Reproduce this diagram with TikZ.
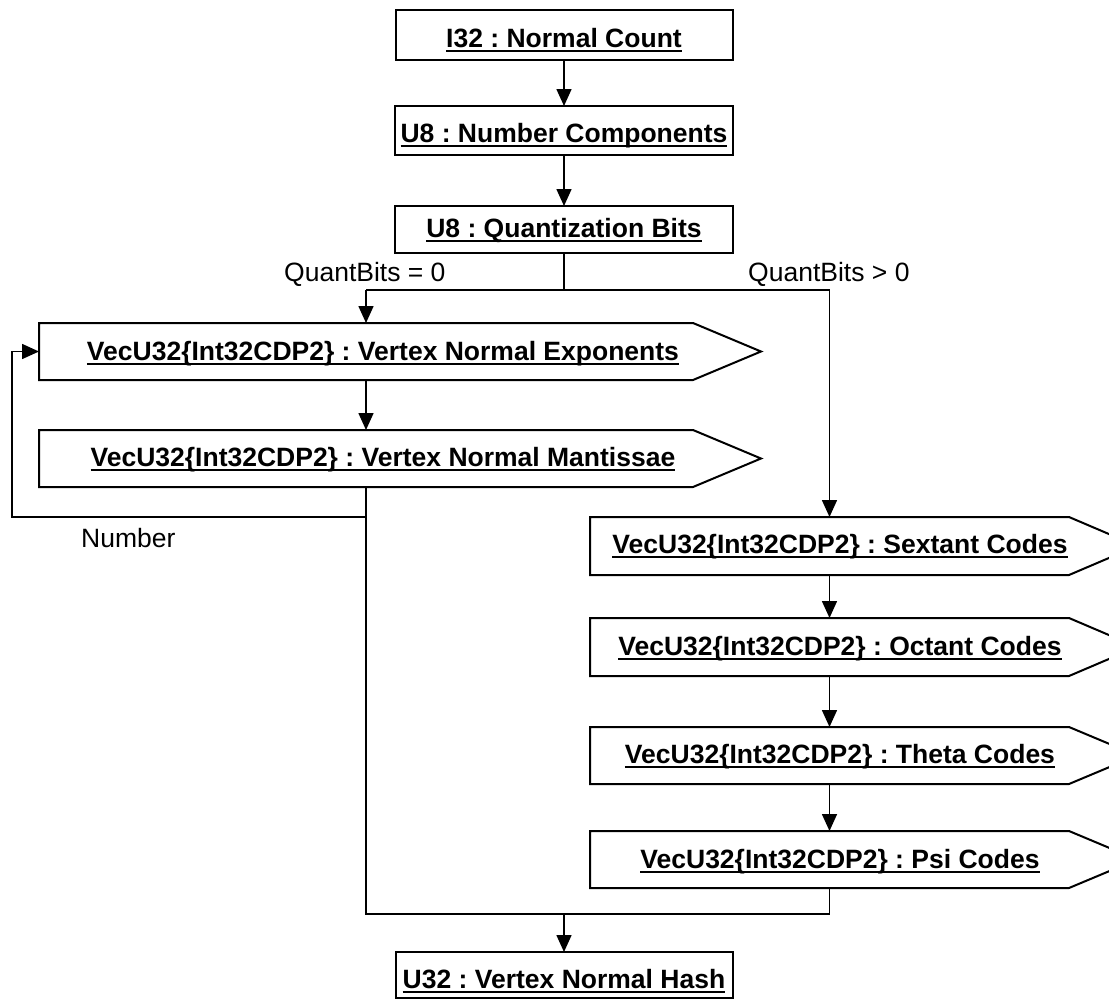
\documentclass[tikz,border=0pt]{standalone}
\usepackage{fontspec}
\setmainfont{Liberation Sans}
\usetikzlibrary{arrows.meta,calc}
\frenchspacing
% underlined box caption with a fixed rule below the baseline
\newcommand\utext[1]{\setbox0\hbox{#1}\rlap{\rule[-5pt]{\wd0}{2.2pt}}\box0}
\begin{document}
\begin{tikzpicture}[x=1pt,y=-1pt,
  rbox/.style={draw, line width=2pt, inner sep=0pt, outer sep=0pt},
  pbox/.style={draw=none, inner sep=0pt, outer sep=0pt},
  outline/.style={line width=2pt, line join=miter},
  btext/.style={anchor=base, inner sep=0pt, font=\fontsize{26.5}{30}\selectfont\bfseries},
  ltext/.style={anchor=base west, inner sep=0pt, font=\fontsize{26.5}{30}\selectfont},
  conn/.style={line width=1.6pt},
  arr/.style={conn, -{Triangle[length=17pt,width=15pt]}}]
\path[use as bounding box, clip] (0,0) rectangle (1109,999);

% plain boxes
\node[rbox, minimum width=337pt, minimum height=50pt] (n1) at (564,35) {};
\node[rbox, minimum width=338pt, minimum height=49pt] (n2) at (564,130.5) {};
\node[rbox, minimum width=338pt, minimum height=47pt] (n3) at (564,229.5) {};
\node[rbox, minimum width=337pt, minimum height=46pt] (n6) at (564,975) {};

% pointed boxes (open on the right, closed by a tip)
\node[pbox, minimum width=654pt, minimum height=57pt] (p4) at (366,351.5) {};
\node[pbox, minimum width=654pt, minimum height=57pt] (p5) at (366,458.5) {};
\node[pbox, minimum width=479pt, minimum height=58pt] (s1) at (829.5,546) {};
\node[pbox, minimum width=479pt, minimum height=58pt] (s2) at (829.5,647) {};
\node[pbox, minimum width=479pt, minimum height=57pt] (s3) at (829.5,755.5) {};
\node[pbox, minimum width=479pt, minimum height=57pt] (s4) at (829.5,859.5) {};
\foreach \b in {p4,p5,s1,s2,s3,s4}{
  \draw[outline] (\b.north west) -- (\b.north east) -- ($(\b.north east)!0.5!(\b.south east)+(68,0)$)
    -- (\b.south east) -- (\b.south west) -- cycle;
}

% captions
\node[btext] (t1) at (564,47) {\utext{I32 : Normal Count}};
\node[btext] (t2) at (564,142) {\utext{U8 : Number Components}};
\node[btext] (t3) at (564,237) {\utext{U8 : Quantization Bits}};
\node[btext] (t4) at (383,360) {\utext{VecU32\{Int32CDP2\} : Vertex Normal Exponents}};
\node[btext] (t5) at (383,466) {\utext{VecU32\{Int32CDP2\} : Vertex Normal Mantissae}};
\node[btext] (u1) at (840,553) {\utext{VecU32\{Int32CDP2\} : Sextant Codes}};
\node[btext] (u2) at (840,655) {\utext{VecU32\{Int32CDP2\} : Octant Codes}};
\node[btext] (u3) at (840,763) {\utext{VecU32\{Int32CDP2\} : Theta Codes}};
\node[btext] (u4) at (840,868) {\utext{VecU32\{Int32CDP2\} : Psi Codes}};
\node[btext] (t6) at (564,988) {\utext{U32 : Vertex Normal Hash}};

% branch labels
\node[ltext] (q0) at (284,281) {QuantBits = 0};
\node[ltext] (q1) at (748,281) {QuantBits > 0};
\node[ltext] (nb) at (81,547) {Number};

% junction points
\coordinate (jq) at (564,290);
\coordinate (jl) at (366,290);
\coordinate (jr) at (829.5,290);
\coordinate (lp) at (366,517);
\coordinate (lpl) at (12,517);
\coordinate (jb) at (366,914);
\coordinate (jbr) at (829.5,914);
\coordinate (jm) at (564,914);

% connectors
\draw[arr] (n1.south) -- (n2.north);
\draw[arr] (n2.south) -- (n3.north);
\draw[conn] (n3.south) -- (jq);
\draw[conn] (jl) -- (jr);
\draw[arr] (jl) -- (jl |- p4.north);
\draw[arr] (jr) -- (jr |- s1.north);
\draw[arr] (p4.south) -- (p5.north);
\draw[arr] (lp) -- (lpl) -- (lpl |- p4.west) -- (p4.west);
\draw[conn] (p5.south) -- (jb) -- (jbr) -- (jbr |- s4.south);
\draw[arr] (s1.south) -- (s2.north);
\draw[arr] (s2.south) -- (s3.north);
\draw[arr] (s3.south) -- (s4.north);
\draw[arr] (jm) -- (n6.north);
\end{tikzpicture}
\end{document}
